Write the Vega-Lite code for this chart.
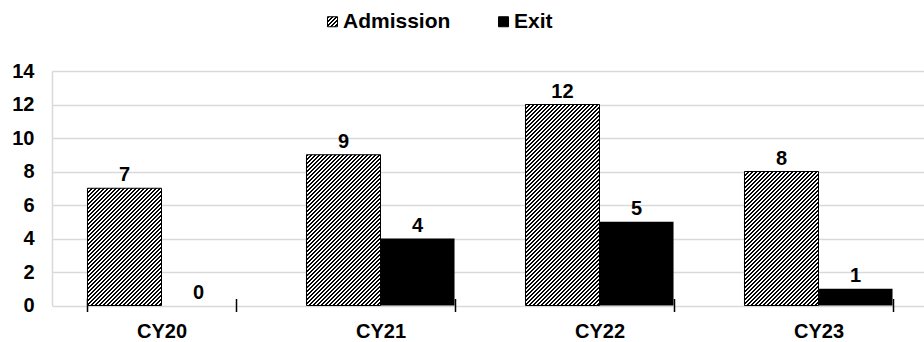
{
  "$schema": "https://vega.github.io/schema/vega-lite/v6.json",
  "autosize": "none",
  "width": 876,
  "height": 234.5,
  "padding": {"left": 52, "top": 71, "right": 0, "bottom": 36.5},
  "background": "white",
  "config": {
    "view": {"stroke": null},
    "font": "Liberation Sans",
    "axis": {"labelFont": "Liberation Sans", "labelFontWeight": "bold", "labelFontSize": 20, "labelColor": "black", "title": null},
    "legend": {"labelFont": "Liberation Sans"}
  },
  "params": [
    {"name": "hs", "value": [
{"offset":0,"color":"#000"},{"offset":0.005,"color":"#000"},{"offset":0.005,"color":"#fff"},{"offset":0.01,"color":"#fff"},
{"offset":0.01,"color":"#000"},{"offset":0.015,"color":"#000"},{"offset":0.015,"color":"#fff"},{"offset":0.02,"color":"#fff"},
{"offset":0.02,"color":"#000"},{"offset":0.025,"color":"#000"},{"offset":0.025,"color":"#fff"},{"offset":0.03,"color":"#fff"},
{"offset":0.03,"color":"#000"},{"offset":0.035,"color":"#000"},{"offset":0.035,"color":"#fff"},{"offset":0.04,"color":"#fff"},
{"offset":0.04,"color":"#000"},{"offset":0.045,"color":"#000"},{"offset":0.045,"color":"#fff"},{"offset":0.05,"color":"#fff"},
{"offset":0.05,"color":"#000"},{"offset":0.055,"color":"#000"},{"offset":0.055,"color":"#fff"},{"offset":0.06,"color":"#fff"},
{"offset":0.06,"color":"#000"},{"offset":0.065,"color":"#000"},{"offset":0.065,"color":"#fff"},{"offset":0.07,"color":"#fff"},
{"offset":0.07,"color":"#000"},{"offset":0.075,"color":"#000"},{"offset":0.075,"color":"#fff"},{"offset":0.08,"color":"#fff"},
{"offset":0.08,"color":"#000"},{"offset":0.085,"color":"#000"},{"offset":0.085,"color":"#fff"},{"offset":0.09,"color":"#fff"},
{"offset":0.09,"color":"#000"},{"offset":0.095,"color":"#000"},{"offset":0.095,"color":"#fff"},{"offset":0.1,"color":"#fff"},
{"offset":0.1,"color":"#000"},{"offset":0.105,"color":"#000"},{"offset":0.105,"color":"#fff"},{"offset":0.11,"color":"#fff"},
{"offset":0.11,"color":"#000"},{"offset":0.115,"color":"#000"},{"offset":0.115,"color":"#fff"},{"offset":0.12,"color":"#fff"},
{"offset":0.12,"color":"#000"},{"offset":0.125,"color":"#000"},{"offset":0.125,"color":"#fff"},{"offset":0.13,"color":"#fff"},
{"offset":0.13,"color":"#000"},{"offset":0.135,"color":"#000"},{"offset":0.135,"color":"#fff"},{"offset":0.14,"color":"#fff"},
{"offset":0.14,"color":"#000"},{"offset":0.145,"color":"#000"},{"offset":0.145,"color":"#fff"},{"offset":0.15,"color":"#fff"},
{"offset":0.15,"color":"#000"},{"offset":0.155,"color":"#000"},{"offset":0.155,"color":"#fff"},{"offset":0.16,"color":"#fff"},
{"offset":0.16,"color":"#000"},{"offset":0.165,"color":"#000"},{"offset":0.165,"color":"#fff"},{"offset":0.17,"color":"#fff"},
{"offset":0.17,"color":"#000"},{"offset":0.175,"color":"#000"},{"offset":0.175,"color":"#fff"},{"offset":0.18,"color":"#fff"},
{"offset":0.18,"color":"#000"},{"offset":0.185,"color":"#000"},{"offset":0.185,"color":"#fff"},{"offset":0.19,"color":"#fff"},
{"offset":0.19,"color":"#000"},{"offset":0.195,"color":"#000"},{"offset":0.195,"color":"#fff"},{"offset":0.2,"color":"#fff"},
{"offset":0.2,"color":"#000"},{"offset":0.205,"color":"#000"},{"offset":0.205,"color":"#fff"},{"offset":0.21,"color":"#fff"},
{"offset":0.21,"color":"#000"},{"offset":0.215,"color":"#000"},{"offset":0.215,"color":"#fff"},{"offset":0.22,"color":"#fff"},
{"offset":0.22,"color":"#000"},{"offset":0.225,"color":"#000"},{"offset":0.225,"color":"#fff"},{"offset":0.23,"color":"#fff"},
{"offset":0.23,"color":"#000"},{"offset":0.235,"color":"#000"},{"offset":0.235,"color":"#fff"},{"offset":0.24,"color":"#fff"},
{"offset":0.24,"color":"#000"},{"offset":0.245,"color":"#000"},{"offset":0.245,"color":"#fff"},{"offset":0.25,"color":"#fff"},
{"offset":0.25,"color":"#000"},{"offset":0.255,"color":"#000"},{"offset":0.255,"color":"#fff"},{"offset":0.26,"color":"#fff"},
{"offset":0.26,"color":"#000"},{"offset":0.265,"color":"#000"},{"offset":0.265,"color":"#fff"},{"offset":0.27,"color":"#fff"},
{"offset":0.27,"color":"#000"},{"offset":0.275,"color":"#000"},{"offset":0.275,"color":"#fff"},{"offset":0.28,"color":"#fff"},
{"offset":0.28,"color":"#000"},{"offset":0.285,"color":"#000"},{"offset":0.285,"color":"#fff"},{"offset":0.29,"color":"#fff"},
{"offset":0.29,"color":"#000"},{"offset":0.295,"color":"#000"},{"offset":0.295,"color":"#fff"},{"offset":0.3,"color":"#fff"},
{"offset":0.3,"color":"#000"},{"offset":0.305,"color":"#000"},{"offset":0.305,"color":"#fff"},{"offset":0.31,"color":"#fff"},
{"offset":0.31,"color":"#000"},{"offset":0.315,"color":"#000"},{"offset":0.315,"color":"#fff"},{"offset":0.32,"color":"#fff"},
{"offset":0.32,"color":"#000"},{"offset":0.325,"color":"#000"},{"offset":0.325,"color":"#fff"},{"offset":0.33,"color":"#fff"},
{"offset":0.33,"color":"#000"},{"offset":0.335,"color":"#000"},{"offset":0.335,"color":"#fff"},{"offset":0.34,"color":"#fff"},
{"offset":0.34,"color":"#000"},{"offset":0.345,"color":"#000"},{"offset":0.345,"color":"#fff"},{"offset":0.35,"color":"#fff"},
{"offset":0.35,"color":"#000"},{"offset":0.355,"color":"#000"},{"offset":0.355,"color":"#fff"},{"offset":0.36,"color":"#fff"},
{"offset":0.36,"color":"#000"},{"offset":0.365,"color":"#000"},{"offset":0.365,"color":"#fff"},{"offset":0.37,"color":"#fff"},
{"offset":0.37,"color":"#000"},{"offset":0.375,"color":"#000"},{"offset":0.375,"color":"#fff"},{"offset":0.38,"color":"#fff"},
{"offset":0.38,"color":"#000"},{"offset":0.385,"color":"#000"},{"offset":0.385,"color":"#fff"},{"offset":0.39,"color":"#fff"},
{"offset":0.39,"color":"#000"},{"offset":0.395,"color":"#000"},{"offset":0.395,"color":"#fff"},{"offset":0.4,"color":"#fff"},
{"offset":0.4,"color":"#000"},{"offset":0.405,"color":"#000"},{"offset":0.405,"color":"#fff"},{"offset":0.41,"color":"#fff"},
{"offset":0.41,"color":"#000"},{"offset":0.415,"color":"#000"},{"offset":0.415,"color":"#fff"},{"offset":0.42,"color":"#fff"},
{"offset":0.42,"color":"#000"},{"offset":0.425,"color":"#000"},{"offset":0.425,"color":"#fff"},{"offset":0.43,"color":"#fff"},
{"offset":0.43,"color":"#000"},{"offset":0.435,"color":"#000"},{"offset":0.435,"color":"#fff"},{"offset":0.44,"color":"#fff"},
{"offset":0.44,"color":"#000"},{"offset":0.445,"color":"#000"},{"offset":0.445,"color":"#fff"},{"offset":0.45,"color":"#fff"},
{"offset":0.45,"color":"#000"},{"offset":0.455,"color":"#000"},{"offset":0.455,"color":"#fff"},{"offset":0.46,"color":"#fff"},
{"offset":0.46,"color":"#000"},{"offset":0.465,"color":"#000"},{"offset":0.465,"color":"#fff"},{"offset":0.47,"color":"#fff"},
{"offset":0.47,"color":"#000"},{"offset":0.475,"color":"#000"},{"offset":0.475,"color":"#fff"},{"offset":0.48,"color":"#fff"},
{"offset":0.48,"color":"#000"},{"offset":0.485,"color":"#000"},{"offset":0.485,"color":"#fff"},{"offset":0.49,"color":"#fff"},
{"offset":0.49,"color":"#000"},{"offset":0.495,"color":"#000"},{"offset":0.495,"color":"#fff"},{"offset":0.5,"color":"#fff"},
{"offset":0.5,"color":"#000"},{"offset":0.505,"color":"#000"},{"offset":0.505,"color":"#fff"},{"offset":0.51,"color":"#fff"},
{"offset":0.51,"color":"#000"},{"offset":0.515,"color":"#000"},{"offset":0.515,"color":"#fff"},{"offset":0.52,"color":"#fff"},
{"offset":0.52,"color":"#000"},{"offset":0.525,"color":"#000"},{"offset":0.525,"color":"#fff"},{"offset":0.53,"color":"#fff"},
{"offset":0.53,"color":"#000"},{"offset":0.535,"color":"#000"},{"offset":0.535,"color":"#fff"},{"offset":0.54,"color":"#fff"},
{"offset":0.54,"color":"#000"},{"offset":0.545,"color":"#000"},{"offset":0.545,"color":"#fff"},{"offset":0.55,"color":"#fff"},
{"offset":0.55,"color":"#000"},{"offset":0.555,"color":"#000"},{"offset":0.555,"color":"#fff"},{"offset":0.56,"color":"#fff"},
{"offset":0.56,"color":"#000"},{"offset":0.565,"color":"#000"},{"offset":0.565,"color":"#fff"},{"offset":0.57,"color":"#fff"},
{"offset":0.57,"color":"#000"},{"offset":0.575,"color":"#000"},{"offset":0.575,"color":"#fff"},{"offset":0.58,"color":"#fff"},
{"offset":0.58,"color":"#000"},{"offset":0.585,"color":"#000"},{"offset":0.585,"color":"#fff"},{"offset":0.59,"color":"#fff"},
{"offset":0.59,"color":"#000"},{"offset":0.595,"color":"#000"},{"offset":0.595,"color":"#fff"},{"offset":0.6,"color":"#fff"},
{"offset":0.6,"color":"#000"},{"offset":0.605,"color":"#000"},{"offset":0.605,"color":"#fff"},{"offset":0.61,"color":"#fff"},
{"offset":0.61,"color":"#000"},{"offset":0.615,"color":"#000"},{"offset":0.615,"color":"#fff"},{"offset":0.62,"color":"#fff"},
{"offset":0.62,"color":"#000"},{"offset":0.625,"color":"#000"},{"offset":0.625,"color":"#fff"},{"offset":0.63,"color":"#fff"},
{"offset":0.63,"color":"#000"},{"offset":0.635,"color":"#000"},{"offset":0.635,"color":"#fff"},{"offset":0.64,"color":"#fff"},
{"offset":0.64,"color":"#000"},{"offset":0.645,"color":"#000"},{"offset":0.645,"color":"#fff"},{"offset":0.65,"color":"#fff"},
{"offset":0.65,"color":"#000"},{"offset":0.655,"color":"#000"},{"offset":0.655,"color":"#fff"},{"offset":0.66,"color":"#fff"},
{"offset":0.66,"color":"#000"},{"offset":0.665,"color":"#000"},{"offset":0.665,"color":"#fff"},{"offset":0.67,"color":"#fff"},
{"offset":0.67,"color":"#000"},{"offset":0.675,"color":"#000"},{"offset":0.675,"color":"#fff"},{"offset":0.68,"color":"#fff"},
{"offset":0.68,"color":"#000"},{"offset":0.685,"color":"#000"},{"offset":0.685,"color":"#fff"},{"offset":0.69,"color":"#fff"},
{"offset":0.69,"color":"#000"},{"offset":0.695,"color":"#000"},{"offset":0.695,"color":"#fff"},{"offset":0.7,"color":"#fff"}
    ]}
  ],
  "data": {"values": [
    {"year": "CY20", "series": "Admission", "value": 7},
    {"year": "CY20", "series": "Exit", "value": 0},
    {"year": "CY21", "series": "Admission", "value": 9},
    {"year": "CY21", "series": "Exit", "value": 4},
    {"year": "CY22", "series": "Admission", "value": 12},
    {"year": "CY22", "series": "Exit", "value": 5},
    {"year": "CY23", "series": "Admission", "value": 8},
    {"year": "CY23", "series": "Exit", "value": 1}
  ]},
  "encoding": {
    "x": {
      "field": "year", "type": "nominal", "sort": null,
      "scale": {"paddingInner": 0.324, "paddingOuter": 0.162},
      "axis": {
        "domain": false, "offset": -7, "tickBand": "extent", "ticks": true, "tickSize": 13,
        "tickColor": "black", "tickWidth": 1.5, "labelPadding": 10, "labelAngle": 0, "grid": false
      }
    },
    "xOffset": {"field": "series", "type": "nominal", "sort": ["Admission", "Exit"], "scale": {"paddingInner": 0, "paddingOuter": 0}},
    "y": {
      "field": "value", "type": "quantitative",
      "scale": {"domain": [0, 14], "nice": false},
      "axis": {
        "values": [0, 2, 4, 6, 8, 10, 12, 14], "labelOverlap": false, "grid": true, "gridColor": "#d9d9d9", "gridWidth": 1.5,
        "domain": true, "domainColor": "#d9d9d9", "domainWidth": 1.5, "ticks": false, "labelPadding": 18
      }
    }
  },
  "layer": [
    {
      "mark": {"type": "bar"},
      "encoding": {
        "stroke": {"condition": {"test": "datum.series === 'Admission'", "value": "black"}, "value": null},
        "strokeWidth": {"value": 1},
        "fill": {
          "field": "series", "type": "nominal",
          "scale": {"domain": ["Admission", "Exit"], "range": [{"expr": "{gradient:'linear',x1:0,y1:0,x2:20,y2:20,stops:hs}"}, "black"]},
          "legend": {
            "title": null, "orient": "none", "legendX": 270, "legendY": -60, "direction": "horizontal",
            "symbolType": "square", "symbolSize": 100, "symbolStrokeColor": "black", "symbolStrokeWidth": 1,
            "labelFontSize": 21, "labelFontWeight": "bold", "labelColor": "black", "labelOffset": 0,
            "columnPadding": 42, "padding": 0
          },
          "condition": {
            "test": "datum.series === 'Admission'",
            "value": {"expr": "{gradient:'linear',x1:0,y1:0,x2:74*400/(74*74+pow(datum.value*16.75,2)),y2:datum.value*16.75*400/(74*74+pow(datum.value*16.75,2)),stops:hs}"}
          }
        }
      }
    },
    {
      "mark": {"type": "text", "font": "Liberation Sans", "fontWeight": "bold", "fontSize": 20, "color": "black", "baseline": "alphabetic", "dy": -7},
      "encoding": {
        "text": {"field": "value", "type": "quantitative"}
      }
    },
    {
      "mark": {"type": "rule", "color": "black", "strokeWidth": 1.5},
      "encoding": {"y": {"datum": 0}}
    }
  ]
}
